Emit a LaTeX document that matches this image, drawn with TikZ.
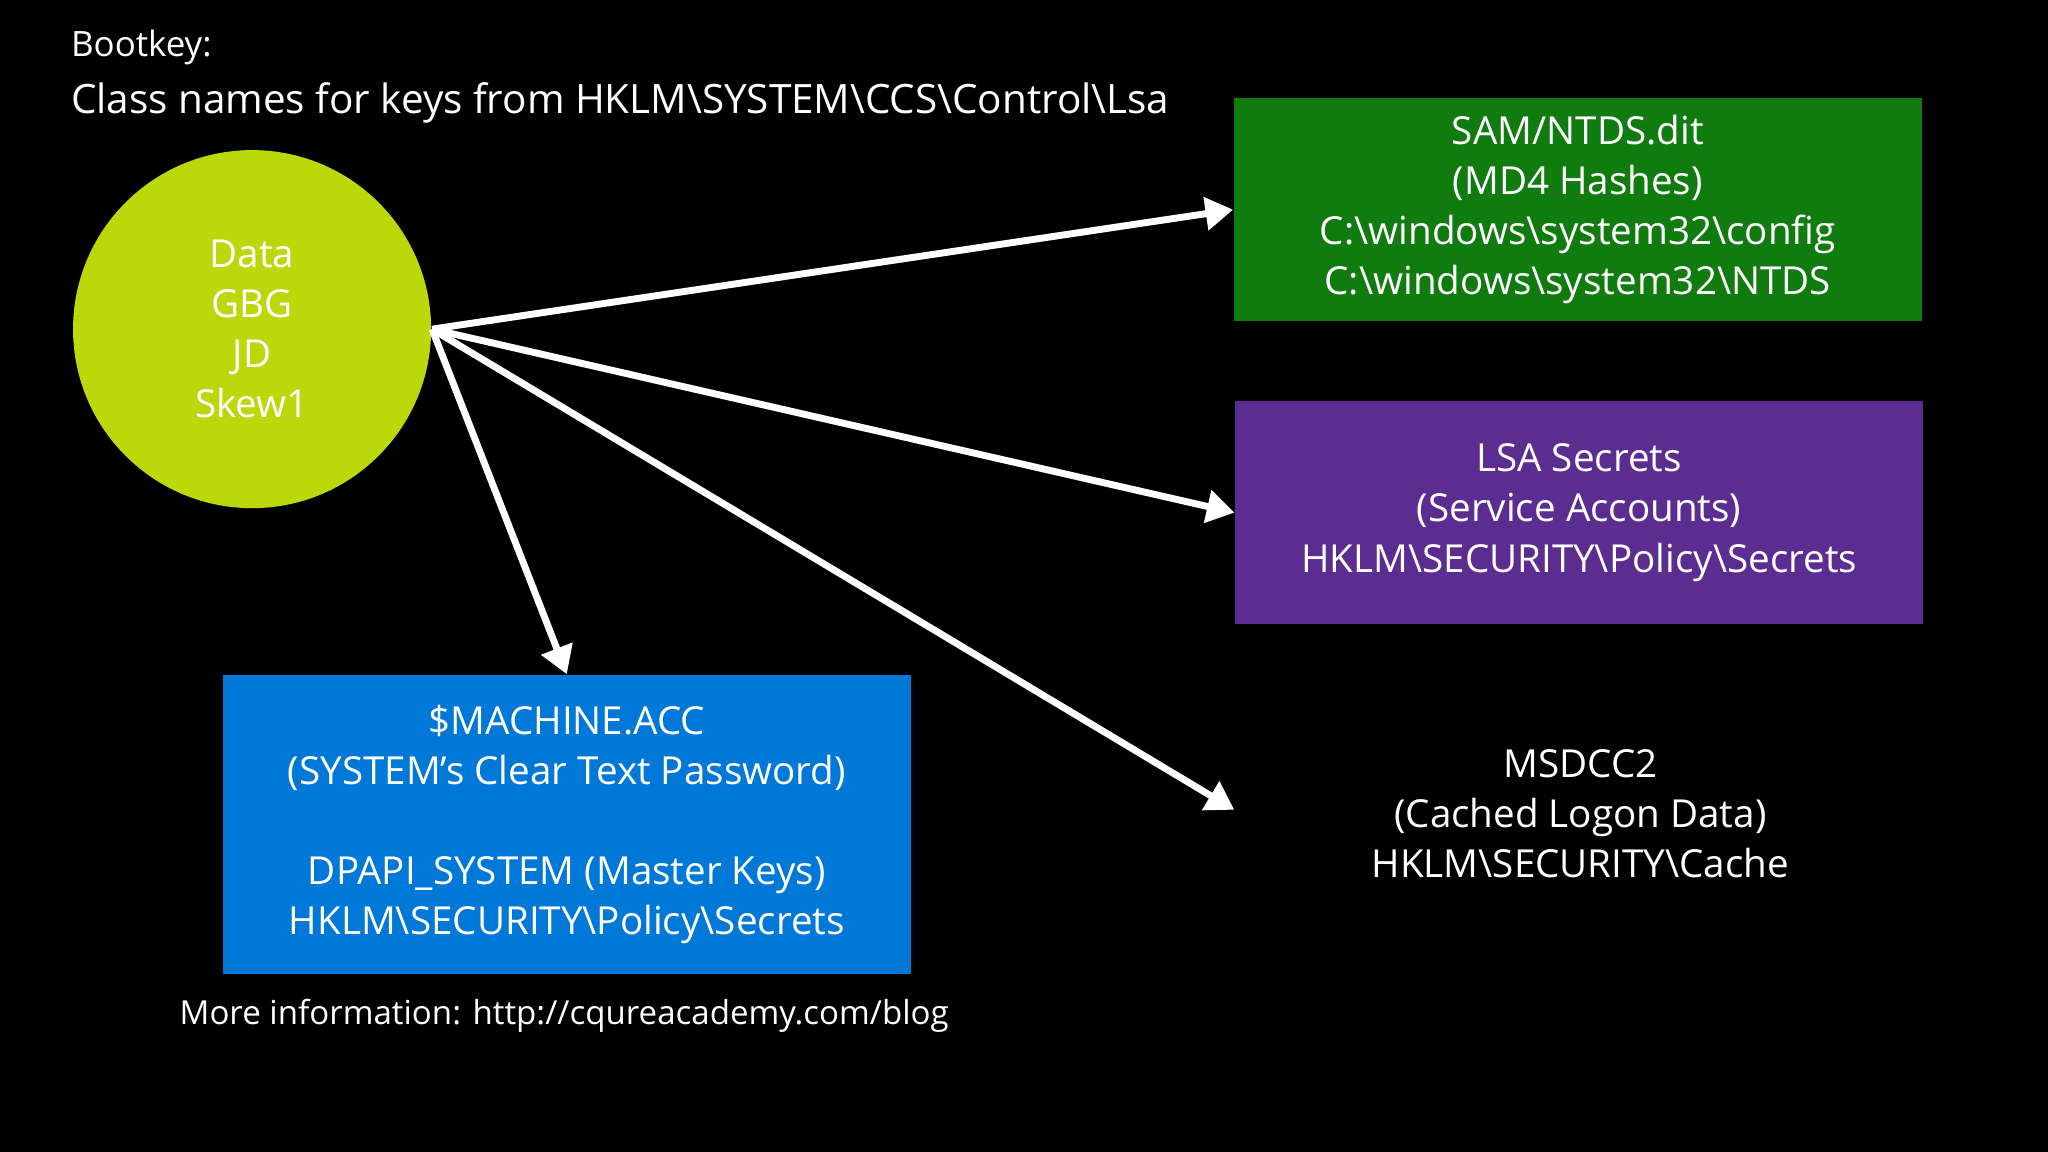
\documentclass[tikz,border=0pt]{standalone}
\usepackage{fontspec}
\setmainfont{Open Sans}
\usetikzlibrary{arrows.meta}
\definecolor{lime}{HTML}{BAD80A}
\definecolor{mgreen}{HTML}{107C10}
\definecolor{mpurple}{HTML}{5C2D91}
\definecolor{mblue}{HTML}{0078D7}
\begin{document}
\begin{tikzpicture}[x=0.01cm,y=-0.01cm,
  txt/.style={text=white,align=center,font=\fontsize{8.4}{10.9}\selectfont},
  box/.style={txt,minimum width=5.26cm,inner sep=0pt},
  arr/.style={white,line width=1.5pt,-{Triangle[length=6pt,width=7pt]}}]
\fill[black] (0,0) rectangle (1568,882);
\useasboundingbox (0,0) rectangle (1568,882);
\node[anchor=base west,text=white,font=\fontsize{7.6}{9}\selectfont] (t1) at (42,43) {Bootkey:};
\node[anchor=base west,text=white,font=\fontsize{8.8}{10}\selectfont] (t2) at (42,87) {Class names for keys from HKLM\textbackslash SYSTEM\textbackslash CCS\textbackslash Control\textbackslash Lsa};
\node[circle,fill=lime,minimum size=2.74cm,inner sep=0pt,txt] (c) at (193,252) {Data\\GBG\\JD\\Skew1};
\node[box,fill=mgreen,minimum height=1.71cm] (g) at (1208,160.5) {SAM/NTDS.dit\\(MD4 Hashes)\\C:\textbackslash windows\textbackslash system32\textbackslash config\\C:\textbackslash windows\textbackslash system32\textbackslash NTDS};
\node[box,fill=mpurple,minimum height=1.71cm] (p) at (1209,392.5) {LSA Secrets\\(Service Accounts)\\HKLM\textbackslash SECURITY\textbackslash Policy\textbackslash Secrets};
\node[txt] (m) at (1210,623) {MSDCC2\\(Cached Logon Data)\\HKLM\textbackslash SECURITY\textbackslash Cache};
\coordinate (mend) at (945,620);
\node[box,fill=mblue,minimum height=2.29cm] (b) at (434,631.5) {\$MACHINE.ACC\\(SYSTEM’s Clear Text Password)\\[10.9pt]DPAPI\_SYSTEM (Master Keys)\\HKLM\textbackslash SECURITY\textbackslash Policy\textbackslash Secrets};
\node[text=white,font=\fontsize{7.2}{9}\selectfont] (info) at (432,778) {More information: http://cqureacademy.com/blog};
\draw[arr] (c.east) -- (g.west);
\draw[arr] (c.east) -- (p.west);
\draw[arr] (c.east) -- (mend);
\draw[arr] (c.east) -- (b.north);
\end{tikzpicture}
\end{document}
